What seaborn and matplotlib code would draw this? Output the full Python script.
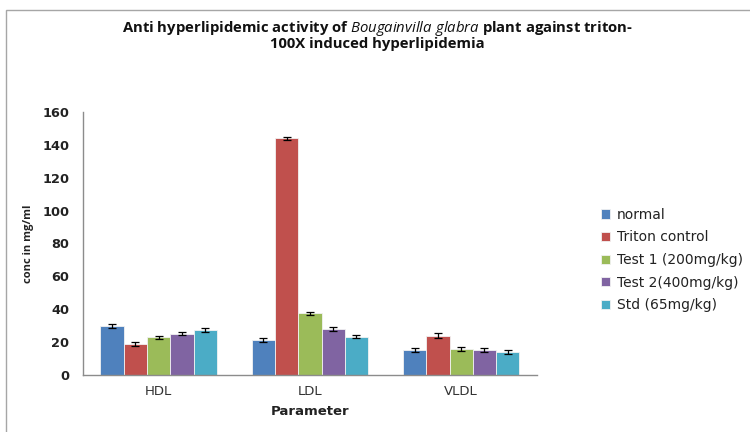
import matplotlib
matplotlib.use("Agg")
import matplotlib.pyplot as plt
from matplotlib.patches import Rectangle
from matplotlib.ticker import FixedLocator, NullFormatter
import seaborn as sns
import pandas as pd
import numpy as np

# Lipid parameters and treatment groups
parameters = ["HDL", "LDL", "VLDL"]
groups = ["normal", "Triton control", "Test 1 (200mg/kg)", "Test 2(400mg/kg)", "Std (65mg/kg)"]

# Mean concentrations (mg/ml) per group, ordered HDL, LDL, VLDL
normal = [30.0, 21.5, 15.0]
triton = [19.0, 144.0, 24.0]
test1 = [22.8, 37.5, 15.8]
test2 = [25.2, 28.0, 15.0]
std = [27.2, 23.2, 14.0]

# Error (SEM) per group
normal_err = [1.2, 1.2, 1.2]
triton_err = [1.3, 1.0, 1.5]
test1_err = [1.0, 1.0, 1.2]
test2_err = [1.0, 1.2, 1.2]
std_err = [1.2, 1.0, 1.0]

colors = ["#4F81BD", "#C0504D", "#9BBB59", "#8064A2", "#4BACC6"]

means = [normal, triton, test1, test2, std]
errs = [normal_err, triton_err, test1_err, test2_err, std_err]

df = pd.DataFrame({
    "Parameter": np.tile(parameters, len(groups)),
    "Group": np.repeat(groups, len(parameters)),
    "Value": np.concatenate(means),
    "Err": np.concatenate(errs),
})

sns.set_theme(style="white")
plt.rcParams["font.family"] = ["Open Sans", "DejaVu Sans"]
plt.rcParams["mathtext.fontset"] = "custom"
plt.rcParams["mathtext.it"] = "Open Sans:italic"
plt.rcParams["mathtext.rm"] = "Open Sans:bold"
plt.rcParams["mathtext.bf"] = "Open Sans:bold"

fig = plt.figure(figsize=(7.5, 4.32), dpi=100)
ax = fig.add_axes([0.1107, 0.132, 0.605, 0.609])

sns.barplot(data=df, x="Parameter", y="Value", hue="Group", order=parameters,
            hue_order=groups, palette=colors, saturation=1, width=0.77, gap=0,
            errorbar=None, ax=ax, legend=True, edgecolor="#f2f2f2", linewidth=0.6)

# Error bars placed on the drawn bars
for container, g in zip(ax.containers, groups):
    sub = df[df["Group"] == g].set_index("Parameter").loc[parameters]
    xs = [p.get_x() + p.get_width() / 2 for p in container.patches]
    hs = [p.get_height() for p in container.patches]
    ax.errorbar(xs, hs, yerr=sub["Err"].values, fmt="none", ecolor="black",
                elinewidth=0.9, capsize=3, capthick=0.9, zorder=5)

ax.set_ylim(0, 160)
ax.set_yticks(np.arange(0, 161, 20))
ax.set_xlim(-0.5, 2.5)

axis_gray = "#8c8c8c"
for side in ["top", "right"]:
    ax.spines[side].set_visible(False)
for side in ["left", "bottom"]:
    ax.spines[side].set_color(axis_gray)
    ax.spines[side].set_linewidth(1.0)

ax.tick_params(axis="y", which="major", direction="out", length=4, width=1,
               color=axis_gray, labelcolor="#222222", pad=6)
ax.tick_params(axis="x", which="major", length=0, labelcolor="#333333", pad=7)
ax.xaxis.set_minor_locator(FixedLocator([-0.5, 0.5, 1.5, 2.5]))
ax.xaxis.set_minor_formatter(NullFormatter())
ax.tick_params(axis="x", which="minor", direction="out", length=4, width=1, color=axis_gray)
for lbl in ax.get_yticklabels():
    lbl.set_fontfamily("DejaVu Sans")
    lbl.set_fontweight("bold")
    lbl.set_fontsize(9.3)
for lbl in ax.get_xticklabels():
    lbl.set_fontfamily("DejaVu Sans")
    lbl.set_fontsize(9.5)

ax.set_xlabel("Parameter", fontsize=9.5, fontweight="bold", color="#222222",
              labelpad=5, fontfamily="DejaVu Sans")
ax.set_ylabel("conc in mg/ml", fontsize=8, fontweight="bold", color="#222222",
              labelpad=6)

handles, labels = ax.get_legend_handles_labels()
ax.legend(handles, labels, loc="center left", bbox_to_anchor=(0.785, 0.398),
          bbox_transform=fig.transFigure, frameon=False,
          prop={"family": "DejaVu Sans", "size": 10},
          handlelength=0.65, handleheight=0.65, handletextpad=0.5,
          labelspacing=0.62, labelcolor="#222222")

# Title
fig.text(0.503, 0.935, "Anti hyperlipidemic activity of $\\it{Bougainvilla\\ glabra}$ plant against triton-",
         ha="center", va="center", fontsize=10.7, fontweight="bold", color="#111111")
fig.text(0.503, 0.898, "100X induced hyperlipidemia",
         ha="center", va="center", fontsize=10.7, fontweight="bold", color="#111111")

# Chart area border
fig.patches.append(Rectangle((6 / 750, -0.05), 1.1, 1 - 10 / 432 + 0.05,
                             transform=fig.transFigure, fill=False,
                             edgecolor="#a6a6a6", linewidth=1.0))

fig.savefig("out.png", dpi=100)
